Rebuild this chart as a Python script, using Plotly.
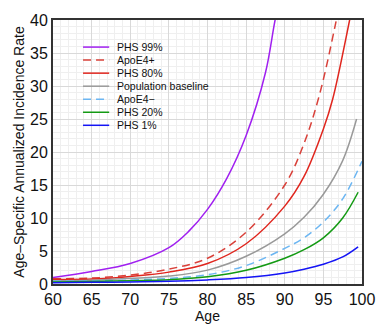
import plotly.graph_objects as go

# Ages and values
phs99_age = [60, 65, 70, 75, 77.5, 80, 82.5, 85, 87.5, 88.75, 89.5]
phs99_val = [1.0, 1.9, 3.1, 5.5, 7.9, 11.3, 16.0, 22.5, 32.0, 40.0, 44.0]

apoe4p_age = [60, 65, 70, 75, 80, 85, 90, 92.5, 94.5, 96.5, 97.5]
apoe4p_val = [0.8, 0.9, 1.35, 2.25, 3.9, 7.85, 15.0, 21.3, 28.7, 39.0, 45.0]

phs80_age = [60, 65, 70, 75, 80, 85, 90, 92.5, 95, 96.2, 98.4, 99.0]
phs80_val = [0.7, 0.75, 1.15, 1.8, 3.1, 6.1, 11.8, 16.3, 23.5, 28.0, 40.0, 43.5]

base_age = [60, 65, 70, 75, 80, 85, 90, 92.5, 95, 97.5, 99.3]
base_val = [0.5, 0.57, 0.84, 1.2, 2.1, 4.2, 7.6, 10.1, 13.6, 18.7, 25.0]

apoe4m_age = [60, 65, 70, 75, 80, 85, 90, 92.5, 95, 97.5, 100]
apoe4m_val = [0.4, 0.45, 0.6, 0.84, 1.4, 2.8, 5.4, 7.0, 9.4, 12.9, 18.6]

phs20_age = [60, 65, 70, 75, 80, 85, 90, 92.5, 95, 97.5, 99.5]
phs20_val = [0.3, 0.38, 0.5, 0.64, 1.09, 2.07, 3.9, 5.2, 7.0, 10.0, 13.9]

phs1_age = [60, 65, 70, 75, 80, 85, 90, 92.5, 95, 97.5, 99.5]
phs1_val = [0.2, 0.25, 0.32, 0.4, 0.62, 0.99, 1.68, 2.25, 3.0, 4.1, 5.63]

x_ticks = [60, 65, 70, 75, 80, 85, 90, 95, 100]
y_ticks = [0, 5, 10, 15, 20, 25, 30, 35, 40]

series = [
    ("PHS 99%", phs99_age, phs99_val, "#a020f0", "solid"),
    ("ApoE4+", apoe4p_age, apoe4p_val, "#d9413a", "8px,5px"),
    ("PHS 80%", phs80_age, phs80_val, "#e0261e", "solid"),
    ("Population baseline", base_age, base_val, "#999999", "solid"),
    ("ApoE4\u2212", apoe4m_age, apoe4m_val, "#6cb6f2", "8px,5px"),
    ("PHS 20%", phs20_age, phs20_val, "#139a13", "solid"),
    ("PHS 1%", phs1_age, phs1_val, "#1414f5", "solid"),
]

# plot area in pixels (for the hand-made legend)
L, R, T, B = 53, 15, 14, 50
W, H = 387, 334
pw, ph = W - L - R, H - T - B

def px_to_paper_x(px):
    return (px - L) / pw

def py_to_paper_y(py):
    return (H - B - py) / ph

fig = go.Figure()
shapes = []
annotations = []
for i, (name, ax, vy, col, dash) in enumerate(series):
    fig.add_trace(go.Scatter(
        x=ax, y=vy, name=name, mode="lines", showlegend=False,
        line=dict(color=col, width=1.5, dash=dash, shape="spline", smoothing=1.0),
    ))
    yrow = 41.7 + 13.33 * i
    shapes.append(dict(
        type="line", xref="paper", yref="paper",
        x0=px_to_paper_x(84), x1=px_to_paper_x(111),
        y0=py_to_paper_y(yrow), y1=py_to_paper_y(yrow),
        line=dict(color=col, width=1.5, dash=dash),
    ))
    annotations.append(dict(
        xref="paper", yref="paper", x=px_to_paper_x(117), y=py_to_paper_y(yrow),
        xanchor="left", yanchor="middle", text=name, showarrow=False,
        font=dict(size=10.5, color="#111"),
    ))

font_family = "Liberation Sans, Arial, sans-serif"
fig.update_layout(
    width=W, height=H,
    margin=dict(l=L, r=R, t=T, b=B),
    paper_bgcolor="white", plot_bgcolor="white",
    font=dict(family=font_family, size=14, color="#111"),
    showlegend=False,
    shapes=shapes, annotations=annotations,
)
fig.update_xaxes(
    range=[60, 100], tickvals=x_ticks, ticktext=[str(t) for t in x_ticks],
    title=dict(text="Age", font=dict(size=14), standoff=4),
    showline=True, linecolor="#333", linewidth=2, mirror=True,
    showgrid=True, gridcolor="#d9d9d9", gridwidth=1,
    minor=dict(dtick=1, showgrid=True, gridcolor="#efefef", gridwidth=1),
    zeroline=False, ticks="", tickfont=dict(size=16),
)
fig.update_yaxes(
    range=[0, 40], tickvals=y_ticks, ticktext=[str(t) for t in y_ticks],
    title=dict(text="Age\u2013Specific Annualized Incidence Rate", font=dict(size=14), standoff=2),
    showline=True, linecolor="#333", linewidth=2, mirror=True,
    showgrid=True, gridcolor="#d9d9d9", gridwidth=1,
    minor=dict(dtick=1, showgrid=True, gridcolor="#efefef", gridwidth=1),
    zeroline=False, ticks="", tickfont=dict(size=16),
)
fig.write_html("out.html")
